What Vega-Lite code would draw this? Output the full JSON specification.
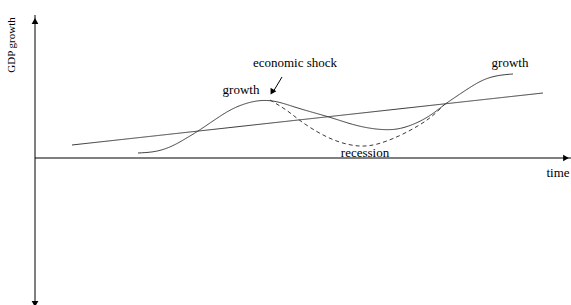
{
  "$schema": "https://vega.github.io/schema/vega-lite/v6.json",
  "width": 571,
  "height": 305,
  "padding": 0,
  "autosize": {"type": "none"},
  "background": "white",
  "config": {"view": {"stroke": null}},
  "datasets": {
    "axes": [
      {"x": 35, "y": 143, "x2": 35, "y2": -147},
      {"x": 35, "y": 0, "x2": 571, "y2": 0}
    ],
    "heads": [
      {"x": 35, "y": 137, "shape": "triangle-up", "angle": 0},
      {"x": 566, "y": 0, "shape": "triangle-right", "angle": 0},
      {"x": 35, "y": -146, "shape": "triangle-down", "angle": 0},
      {"x": 272, "y": 66, "shape": "triangle-down", "angle": 30}
    ],
    "pointer": [
      {"x": 282, "y": 81, "x2": 273, "y2": 66}
    ],
    "curves": [
      {"series": "trend", "x": 72, "y": 13},
      {"series": "trend", "x": 543, "y": 65},
      {"series": "actual", "x": 138, "y": 5},
      {"series": "actual", "x": 157, "y": 6},
      {"series": "actual", "x": 173, "y": 12},
      {"series": "actual", "x": 185, "y": 19},
      {"series": "actual", "x": 200, "y": 28},
      {"series": "actual", "x": 220, "y": 42},
      {"series": "actual", "x": 235, "y": 51},
      {"series": "actual", "x": 253, "y": 57},
      {"series": "actual", "x": 267, "y": 58},
      {"series": "actual", "x": 280, "y": 56},
      {"series": "actual", "x": 300, "y": 49},
      {"series": "actual", "x": 330, "y": 41},
      {"series": "actual", "x": 353, "y": 33},
      {"series": "actual", "x": 373, "y": 29},
      {"series": "actual", "x": 388, "y": 28},
      {"series": "actual", "x": 400, "y": 29},
      {"series": "actual", "x": 415, "y": 34},
      {"series": "actual", "x": 430, "y": 42},
      {"series": "actual", "x": 440, "y": 50},
      {"series": "actual", "x": 448, "y": 56},
      {"series": "actual", "x": 460, "y": 64},
      {"series": "actual", "x": 475, "y": 74},
      {"series": "actual", "x": 487, "y": 80},
      {"series": "actual", "x": 500, "y": 83},
      {"series": "actual", "x": 513, "y": 84},
      {"series": "shock", "x": 270, "y": 58},
      {"series": "shock", "x": 287, "y": 48},
      {"series": "shock", "x": 300, "y": 37},
      {"series": "shock", "x": 320, "y": 24},
      {"series": "shock", "x": 340, "y": 15},
      {"series": "shock", "x": 360, "y": 11},
      {"series": "shock", "x": 377, "y": 13},
      {"series": "shock", "x": 400, "y": 22},
      {"series": "shock", "x": 420, "y": 33},
      {"series": "shock", "x": 433, "y": 42},
      {"series": "shock", "x": 446, "y": 55}
    ],
    "labels": [
      {"text": "economic shock", "x": 295, "y": 95},
      {"text": "growth", "x": 241, "y": 68},
      {"text": "recession", "x": 365, "y": 5},
      {"text": "growth", "x": 510, "y": 95},
      {"text": "time", "x": 558, "y": -15}
    ],
    "ylabel": [
      {"text": "GDP growth", "x": 12, "y": 113}
    ]
  },
  "encoding": {
    "x": {"field": "x", "type": "quantitative", "scale": {"domain": [0, 571], "nice": false, "zero": false}, "axis": null},
    "y": {"field": "y", "type": "quantitative", "scale": {"domain": [-147, 158], "nice": false, "zero": false}, "axis": null}
  },
  "layer": [
    {
      "data": {"name": "axes"},
      "mark": {"type": "rule", "color": "#000000", "strokeWidth": 1},
      "encoding": {
        "x2": {"field": "x2"},
        "y2": {"field": "y2"}
      }
    },
    {
      "data": {"name": "pointer"},
      "mark": {"type": "rule", "color": "#000000", "strokeWidth": 1},
      "encoding": {
        "x2": {"field": "x2"},
        "y2": {"field": "y2"}
      }
    },
    {
      "data": {"name": "heads"},
      "mark": {"type": "point", "filled": true, "color": "#000000", "size": 45, "opacity": 1},
      "encoding": {
        "shape": {"field": "shape", "type": "nominal", "scale": null},
        "angle": {"field": "angle", "type": "quantitative", "scale": null}
      }
    },
    {
      "data": {"name": "curves"},
      "mark": {"type": "line", "interpolate": "basis", "strokeWidth": 1},
      "encoding": {
        "detail": {"field": "series", "type": "nominal"},
        "color": {"value": "#3a3a3a"},
        "strokeDash": {
          "field": "series",
          "type": "nominal",
          "scale": {"domain": ["trend", "actual", "shock"], "range": [[1, 0], [1, 0], [4, 3]]},
          "legend": null
        }
      }
    },
    {
      "data": {"name": "labels"},
      "mark": {"type": "text", "font": "Liberation Serif", "fontSize": 13, "color": "#000000", "align": "center", "baseline": "middle"},
      "encoding": {
        "text": {"field": "text"}
      }
    },
    {
      "data": {"name": "ylabel"},
      "mark": {"type": "text", "font": "Liberation Serif", "fontSize": 11, "angle": 270, "color": "#000000", "align": "center", "baseline": "middle"},
      "encoding": {
        "text": {"field": "text"}
      }
    }
  ]
}
